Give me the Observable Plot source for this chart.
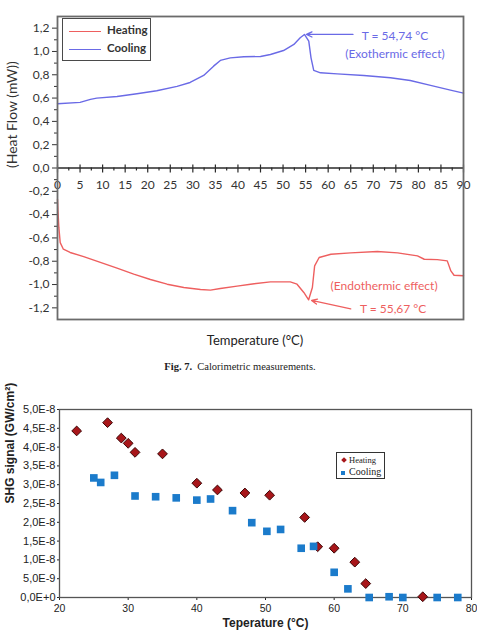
<!DOCTYPE html>
<html>
<head>
<meta charset="utf-8">
<script src="https://cdn.jsdelivr.net/npm/d3@7"></script>
<script src="https://cdn.jsdelivr.net/npm/@observablehq/plot@0.6"></script>
<style>
  body { margin: 0; background: #fff; }
  #page { position: relative; width: 477px; height: 630px; overflow: hidden; background: #fff; }
  #page > * { position: absolute; }
  .legend-top { left: 62px; top: 18px; width: 87px; height: 41px; border: 1.5px solid #4a4a4a; background: #fff;
    font: bold 11.5px Lato, sans-serif; color: #333; }
  .legend-top .sw { position: absolute; left: 6px; width: 32px; height: 0; border-top: 1.3px solid; }
  .legend-top .lb { position: absolute; left: 44px; line-height: 14px; }
  .legend-shg { left: 336px; top: 452px; width: 47px; height: 25px; border: 1px solid #333; background: #fff;
    font-family: "Liberation Serif", "Times New Roman", serif; color: #222; }
  .legend-shg .mk { position: absolute; }
  .legend-shg .lb { position: absolute; left: 12px; line-height: 12px; }
</style>
</head>
<body>
<div id="page"></div>
<script>
// ---- DSC heat-flow curves (temperature °C, heat flow mW) ----
const coolingT  = [0, 5, 7.3, 8.7, 13.2, 17.6, 22, 26.5, 29.4, 32.4, 34.6, 36.1, 38.3, 41.3, 45, 47.2, 50.1, 52.4, 53.8, 54.74, 55.7, 56.2, 56.8, 58.3, 62, 67.9, 73.8, 78.2, 82.7, 87.1, 90];
const coolingHF = [0.551, 0.563, 0.589, 0.600, 0.614, 0.637, 0.663, 0.700, 0.734, 0.794, 0.874, 0.923, 0.945, 0.954, 0.957, 0.974, 1.008, 1.060, 1.117, 1.146, 1.088, 0.945, 0.837, 0.817, 0.808, 0.794, 0.774, 0.751, 0.709, 0.668, 0.643];
const heatingT  = [0, 0.1, 0.3, 0.6, 1.3, 2.8, 5.8, 9.5, 13.2, 16.9, 20.6, 24.3, 28, 31.7, 33.9, 36.1, 39.8, 42.8, 47.2, 51.6, 53.1, 54.6, 55.67, 56.5, 57, 58, 60.6, 65, 70.9, 75.4, 79.8, 81.3, 84.2, 86.4, 87.2, 87.9, 90];
const heatingHF = [-0.268, -0.368, -0.51, -0.64, -0.697, -0.725, -0.76, -0.81, -0.859, -0.911, -0.957, -0.997, -1.025, -1.043, -1.048, -1.034, -1.014, -0.997, -0.977, -0.977, -0.997, -1.068, -1.131, -1.025, -0.84, -0.768, -0.74, -0.728, -0.717, -0.728, -0.754, -0.783, -0.786, -0.797, -0.883, -0.92, -0.925];

// peak temperatures and their labels
const exoPeakT = 54.74, exoPeakHF = 1.146;
const endoPeakT = 55.67, endoPeakHF = -1.131;

// axis ticks
const hfTicks = [-1.2, -1.0, -0.8, -0.6, -0.4, -0.2, 0, 0.2, 0.4, 0.6, 0.8, 1.0, 1.2];
const hfMinor = [-1.1, -0.9, -0.7, -0.5, -0.3, -0.1, 0.1, 0.3, 0.5, 0.7, 0.9, 1.1];
const tempMajor = [0, 5, 10, 15, 20, 25, 30, 35, 40, 45, 50, 55, 60, 65, 70, 75, 80, 85, 90];
const tempMinor = [2.5, 7.5, 12.5, 17.5, 22.5, 27.5, 32.5, 37.5, 42.5, 47.5, 52.5, 57.5, 62.5, 67.5, 72.5, 77.5, 82.5, 87.5];

// ---- SHG signal vs temperature (°C, GW/cm²) ----
const shgHeatT = [22.5, 27, 29, 30, 31, 35, 40, 43, 47, 50.6, 55.7, 57.6, 60, 63, 64.6, 72.9];
const shgHeatV = [4.43e-8, 4.65e-8, 4.24e-8, 4.10e-8, 3.86e-8, 3.82e-8, 3.04e-8, 2.86e-8, 2.78e-8, 2.72e-8, 2.13e-8, 1.35e-8, 1.31e-8, 0.94e-8, 0.37e-8, 0.02e-8];
const shgCoolT = [25, 26, 28, 31, 34, 37, 40, 42, 45.2, 48, 50.2, 52.2, 55.2, 57, 60, 62, 65.1, 68, 70, 75, 78];
const shgCoolV = [3.18e-8, 3.06e-8, 3.25e-8, 2.70e-8, 2.68e-8, 2.65e-8, 2.59e-8, 2.62e-8, 2.31e-8, 1.99e-8, 1.76e-8, 1.81e-8, 1.31e-8, 1.36e-8, 0.67e-8, 0.23e-8, 0, 0.02e-8, 0, 0, 0];
const shgTicks = [0, 0.5e-8, 1e-8, 1.5e-8, 2e-8, 2.5e-8, 3e-8, 3.5e-8, 4e-8, 4.5e-8, 5e-8];
const shgTickLabels = ["0,0E+0", "5,0E-9", "1,0E-8", "1,5E-8", "2,0E-8", "2,5E-8", "3,0E-8", "3,5E-8", "4,0E-8", "4,5E-8", "5,0E-8"];
const shgTempTicks = [20, 30, 40, 50, 60, 70, 80];

const COOL = "#6a6ae6", HEAT = "#ee5f5f";
const decComma = d => (Math.abs(d) < 1e-9 ? 0 : d).toFixed(1).replace(".", ",");

const cooling = coolingT.map((t, i) => ({t, hf: coolingHF[i]}));
const heating = heatingT.map((t, i) => ({t, hf: heatingHF[i]}));

const exoArrow = [{t1: 65.5, hf1: exoPeakHF, t2: exoPeakT, hf2: exoPeakHF}];
const endoArrow = [{t1: 65, hf1: -1.208, t2: endoPeakT, hf2: endoPeakHF}];
const notes = [
  {t: 74.8, hf: 1.131, text: `T = ${String(exoPeakT).replace(".", ",")} °C`, c: COOL},
  {t: 74.8, hf: 0.975, text: "(Exothermic effect)", c: COOL},
  {t: 72.4, hf: -1.011, text: "(Endothermic effect)", c: HEAT},
  {t: 74.4, hf: -1.208, text: `T = ${String(endoPeakT).replace(".", ",")} °C`, c: HEAT}
];

const dsc = Plot.plot({
  width: 477, height: 330,
  marginLeft: 57, marginRight: 14, marginTop: 16, marginBottom: 11,
  style: {fontFamily: "Lato, sans-serif", background: "transparent", overflow: "visible", color: "#333"},
  x: {domain: [0, 90], axis: null},
  y: {domain: [-1.3, 1.3], axis: null},
  marks: [
    Plot.axisY(hfTicks, {anchor: "left", tickSize: 5, tickPadding: 3, tickFormat: decComma, fontSize: 12, label: null}),
    Plot.axisY(hfMinor, {anchor: "left", tickSize: 3, fill: "none", label: null}),
    Plot.ruleY([0], {stroke: "#2a2a2a", strokeWidth: 1.6}),
    Plot.ruleX(tempMajor, {x: d => d, y1: 0, y2: 0, insetTop: -3, insetBottom: -5, stroke: "#2a2a2a", strokeWidth: 1.2}),
    Plot.ruleX(tempMinor, {x: d => d, y1: 0, y2: 0, insetTop: 0, insetBottom: -3, stroke: "#2a2a2a", strokeWidth: 1.2}),
    Plot.text(tempMajor, {x: d => d, y: 0, dy: 17, text: d => String(d), fontSize: 12, fill: "#333"}),
    Plot.line(cooling, {x: "t", y: "hf", stroke: COOL, strokeWidth: 1.4}),
    Plot.line(heating, {x: "t", y: "hf", stroke: HEAT, strokeWidth: 1.4}),
    Plot.arrow(exoArrow, {x1: "t1", y1: "hf1", x2: "t2", y2: "hf2", stroke: COOL, strokeWidth: 1.3, headLength: 7, headAngle: 50, insetEnd: 2}),
    Plot.arrow(endoArrow, {x1: "t1", y1: "hf1", x2: "t2", y2: "hf2", stroke: HEAT, strokeWidth: 1.3, headLength: 7, headAngle: 50, insetEnd: 3}),
    Plot.text(notes, {x: "t", y: "hf", text: "text", fill: "c", fontSize: 12}),
    Plot.text(["(Heat Flow (mW))"], {frameAnchor: "left", dx: -45, rotate: -90, text: d => d, fontSize: 14, fill: "#333"}),
    Plot.frame({stroke: "#6b6b6b", strokeWidth: 1.8})
  ]
});
dsc.style.left = "0px";
dsc.style.top = "0px";

const shgHeat = shgHeatT.map((t, i) => ({t, v: shgHeatV[i]}));
const shgCool = shgCoolT.map((t, i) => ({t, v: shgCoolV[i]}));

const shg = Plot.plot({
  width: 477, height: 240,
  marginLeft: 59, marginRight: 6, marginTop: 19, marginBottom: 33,
  style: {fontFamily: "'Liberation Sans', Arial, sans-serif", background: "transparent", overflow: "visible", color: "#222"},
  x: {domain: [20, 80], axis: null},
  y: {domain: [0, 5e-8], axis: null},
  marks: [
    Plot.axisY(shgTicks, {anchor: "left", tickSize: 2, tickPadding: 2, tickFormat: (d, i) => shgTickLabels[i], fontSize: 11, label: null}),
    Plot.axisX(shgTempTicks, {anchor: "bottom", tickSize: 3, tickPadding: 4, fontSize: 10.5, label: null}),
    Plot.frame({stroke: "#555", strokeWidth: 1.3}),
    Plot.dot(shgHeat, {x: "t", y: "v", symbol: "diamond2", r: 4.4, fill: "#a8161a", stroke: "#3c0606", strokeWidth: 1}),
    Plot.dot(shgCool, {x: "t", y: "v", symbol: "square", r: 4.3, fill: "#1b7bcb", stroke: "none"}),
    Plot.text(["SHG signal (GW/cm²)"], {frameAnchor: "left", dx: -49, rotate: -90, text: d => d, fontSize: 12, fontWeight: "bold", fill: "#222"}),
    Plot.text(["Teperature (°C)"], {frameAnchor: "bottom", dy: 29.5, text: d => d, fontSize: 12, fontWeight: "bold", fill: "#222"})
  ]
});
shg.style.left = "0px";
shg.style.top = "390px";

const page = document.getElementById("page");
page.append(dsc, shg);

// DSC legend
const legTop = document.createElement("div");
legTop.className = "legend-top";
legTop.innerHTML = `
  <div class="sw" style="top:12px;border-color:${HEAT}"></div><div class="lb" style="top:4px">Heating</div>
  <div class="sw" style="top:30px;border-color:${COOL}"></div><div class="lb" style="top:22px">Cooling</div>`;
page.append(legTop);

// SHG legend
const legShg = document.createElement("div");
legShg.className = "legend-shg";
legShg.innerHTML = `
  <div class="mk" style="left:5px;top:5px;width:4px;height:4px;background:#a8161a;transform:rotate(45deg)"></div>
  <div class="lb" style="top:1px;font-size:8.5px">Heating</div>
  <div class="mk" style="left:4px;top:18px;width:4px;height:4px;background:#1b7bcb"></div>
  <div class="lb" style="top:13px;font-size:10px">Cooling</div>`;
page.append(legShg);

// titles under the DSC panel
const xTitle = document.createElement("div");
xTitle.style.cssText = "left:155px;width:200px;top:332px;text-align:center;font:13px Lato, sans-serif;line-height:16px;color:#222";
xTitle.textContent = "Temperature (°C)";
page.append(xTitle);

const caption = document.createElement("div");
caption.style.cssText = "left:0;width:480px;top:360px;text-align:center;font:10.5px 'Liberation Serif', serif;line-height:13px;color:#222";
caption.innerHTML = "<b>Fig. 7.</b>&nbsp; Calorimetric measurements.";
page.append(caption);
</script>
</body>
</html>
